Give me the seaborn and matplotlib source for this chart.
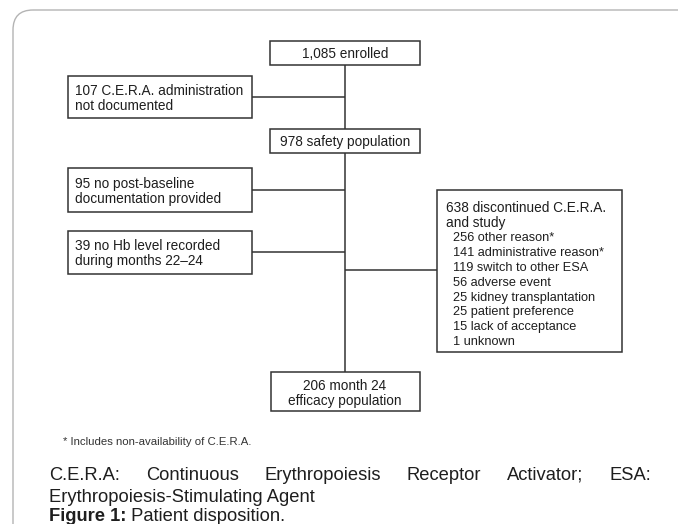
import matplotlib
matplotlib.use('Agg')
import matplotlib.pyplot as plt
from matplotlib.patches import Rectangle, FancyBboxPatch
import seaborn as sns

# flow counts
enrolled = 1085
not_documented = 107
safety = 978
no_post_baseline = 95
no_hb = 39
discontinued = 638
efficacy = 206

reason_counts = [256, 141, 119, 56, 25, 25, 15, 1]
reason_labels = ['other reason*', 'administrative reason*', 'switch to other ESA',
                 'adverse event', 'kidney transplantation', 'patient preference',
                 'lack of acceptance', 'unknown']

footnote = '* Includes non-availability of C.E.R.A.'
caption_1 = ['C.E.R.A:', 'Continuous', 'Erythropoiesis', 'Receptor', 'Activator;', 'ESA:']
caption_2 = 'Erythropoiesis-Stimulating Agent'

sns.set_theme(style='white')
plt.rcParams['font.family'] = ['Liberation Sans', 'DejaVu Sans']

fig = plt.figure(figsize=(6.78, 5.24), dpi=100)
ax = fig.add_axes([0, 0, 1, 1])
ax.set_xlim(0, 678)
ax.set_ylim(524, 0)
ax.axis('off')

EDGE = '#333333'
TXT = '#1e1e1e'
FS = 9.8
STEP = 14.8


def box(x0, y0, x1, y1):
    ax.add_patch(Rectangle((x0, y0), x1 - x0, y1 - y0, fc='white', ec=EDGE, lw=1.1, zorder=3))


def line(xs, ys):
    ax.plot(xs, ys, color=EDGE, lw=1.1, solid_capstyle='butt', zorder=2)


def lines_in(x, yc_first, rows, ha='left', fs=FS):
    for i, r in enumerate(rows):
        ax.text(x, yc_first + i * STEP + 4.7, r, ha=ha, va='baseline', fontsize=fs,
                color=TXT, zorder=4)


# outer frame
ax.add_patch(FancyBboxPatch((13, 10), 720, 540, boxstyle='round,pad=0,rounding_size=20',
                            fill=False, ec='#b4b4b4', lw=1.0))

# main spine
line([345, 345], [65, 372])

box(270, 41, 420, 65)
lines_in(345, 53, [f'{enrolled:,} enrolled'], ha='center')

box(68, 76, 252, 118)
line([252, 345], [97, 97])
lines_in(75, 90, [f'{not_documented} C.E.R.A. administration', 'not documented'])

box(270, 129, 420, 153)
lines_in(345, 141, [f'{safety} safety population'], ha='center')

box(68, 168, 252, 212)
line([252, 345], [190, 190])
lines_in(75, 183, [f'{no_post_baseline} no post-baseline', 'documentation provided'])

box(68, 231, 252, 274)
line([252, 345], [252, 252])
lines_in(75, 245, [f'{no_hb} no Hb level recorded', 'during months 22\u201324'])

box(437, 190, 622, 352)
line([345, 437], [270, 270])
lines_in(446, 207, [f'{discontinued} discontinued C.E.R.A.', 'and study'])
lines_in(453, 207 + 2 * STEP, [f'{n} {r}' for n, r in zip(reason_counts, reason_labels)],
         fs=9.2)

box(271, 372, 420, 411)
lines_in(345, 385, [f'{efficacy} month 24', 'efficacy population'], ha='center')

ax.text(63, 445, footnote, fontsize=8.2, color='#333333', va='baseline')

# justified caption line
fig.canvas.draw()
r = fig.canvas.get_renderer()
inv = ax.transData.inverted()
objs = [ax.text(0, 480, w, fontsize=13.2, color=TXT, va='baseline') for w in caption_1]
widths = []
for t in objs:
    bb = t.get_window_extent(r)
    p0 = inv.transform((bb.x0, bb.y0))
    p1 = inv.transform((bb.x1, bb.y0))
    widths.append(p1[0] - p0[0])
left, right = 49, 651
gap = (right - left - sum(widths)) / (len(objs) - 1)
x = left
for t, w in zip(objs, widths):
    t.set_x(x)
    x += w + gap

ax.text(49, 502, caption_2, fontsize=13.2, color=TXT, va='baseline')
fig_t = ax.text(49, 521, 'Figure 1:', fontsize=13.2, color=TXT, va='baseline', fontweight='bold')
bb = fig_t.get_window_extent(r)
xe = inv.transform((bb.x1, bb.y0))[0]
ax.text(xe, 521, ' Patient disposition.', fontsize=13.2, color=TXT, va='baseline')

fig.savefig('out.png', dpi=100)
